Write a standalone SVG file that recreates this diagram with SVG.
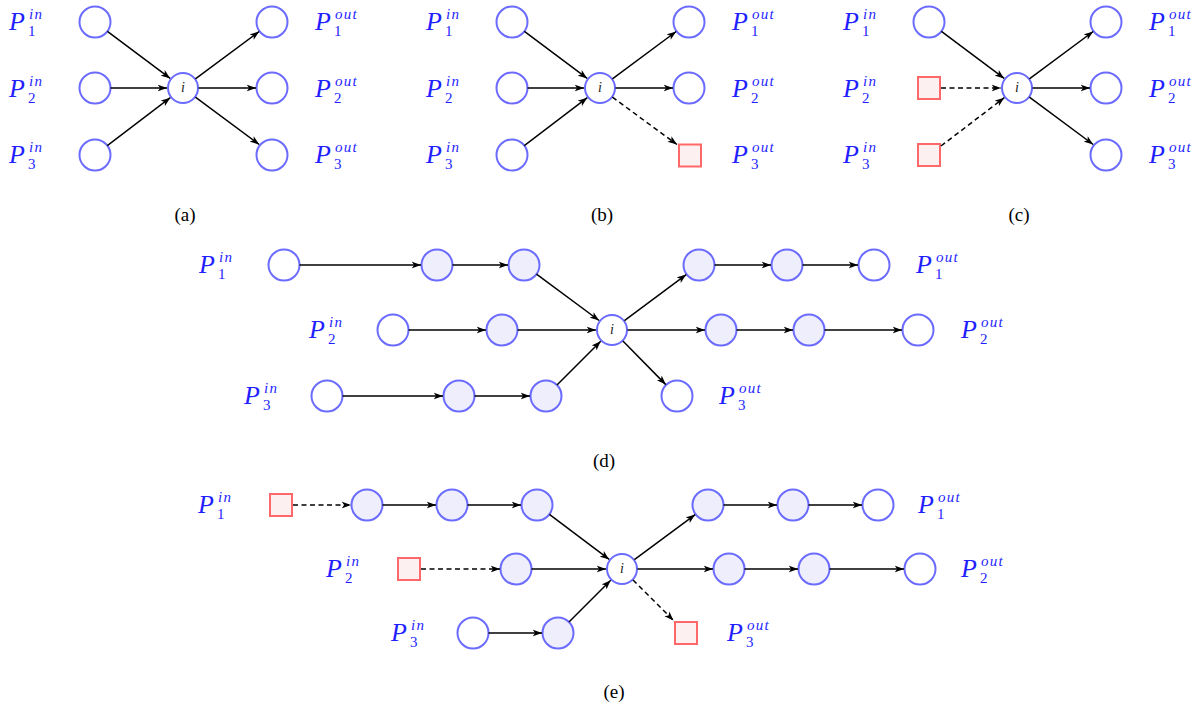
<svg xmlns="http://www.w3.org/2000/svg" width="1198" height="715" viewBox="0 0 1198 715">
<defs>
<marker id="ah" viewBox="0 0 10 8" refX="10" refY="4" markerWidth="9.5" markerHeight="7.5" markerUnits="userSpaceOnUse" orient="auto">
<path d="M0,0.3 L10,4 L0,7.7 L2.6,4 Z" fill="#000"/>
</marker>
</defs>
<style>
.n{fill:#fff;stroke:#6b6bff;stroke-width:2}
.f{fill:#eeeefd;stroke:#6b6bff;stroke-width:2}
.sq{fill:#fdf0f0;stroke:#ff6868;stroke-width:2}
.e{stroke:#000;stroke-width:1.5;fill:none;marker-end:url(#ah)}
.d{stroke-dasharray:5,3.5}
.lbl{font-family:"Liberation Serif",serif;font-style:italic;font-size:26px;fill:#1f1fff}
.s{font-size:15px;letter-spacing:1.3px}
.r{font-style:normal;letter-spacing:0}
.i{font-family:"Liberation Serif",serif;font-style:italic;font-size:14px;fill:#222;text-anchor:middle}
.cap{font-family:"Liberation Serif",serif;font-size:19px;fill:#000;text-anchor:middle}
</style>

<!-- Panel (a) -->
<g id="panel-a">
<g id="a-in1"><circle class="n" cx="95" cy="22" r="15.5"/></g>
<g id="a-in2"><circle class="n" cx="95" cy="88" r="15.5"/></g>
<g id="a-in3"><circle class="n" cx="95" cy="155" r="15.5"/></g>
<g id="a-i"><circle class="n" cx="183" cy="88" r="15"/><text class="i" x="183" y="92">i</text></g>
<g id="a-out1"><circle class="n" cx="272" cy="22" r="15.5"/></g>
<g id="a-out2"><circle class="n" cx="272" cy="88" r="15.5"/></g>
<g id="a-out3"><circle class="n" cx="272" cy="155" r="15.5"/></g>
<g id="a-edges">
<line class="e" x1="107.4" y1="31.3" x2="170.2" y2="78.4"/>
<line class="e" x1="110.5" y1="88" x2="167" y2="88"/>
<line class="e" x1="107.3" y1="145.6" x2="170.3" y2="97.7"/>
<line class="e" x1="195.4" y1="78.8" x2="259.2" y2="31.5"/>
<line class="e" x1="198.5" y1="88" x2="256" y2="88"/>
<line class="e" x1="195.4" y1="97.2" x2="259.2" y2="144.5"/>
</g>
<g id="a-labels">
<text class="lbl" x="9" y="30">P<tspan class="s" x="29" y="19">in</tspan><tspan class="s r" x="28" y="36">1</tspan></text>
<text class="lbl" x="9" y="97">P<tspan class="s" x="29" y="86">in</tspan><tspan class="s r" x="28" y="103">2</tspan></text>
<text class="lbl" x="9" y="163">P<tspan class="s" x="29" y="152">in</tspan><tspan class="s r" x="28" y="169">3</tspan></text>
<text class="lbl" x="315" y="30">P<tspan class="s" x="335" y="19">out</tspan><tspan class="s r" x="334" y="36">1</tspan></text>
<text class="lbl" x="315" y="97">P<tspan class="s" x="335" y="86">out</tspan><tspan class="s r" x="334" y="103">2</tspan></text>
<text class="lbl" x="315" y="163">P<tspan class="s" x="335" y="152">out</tspan><tspan class="s r" x="334" y="169">3</tspan></text>
</g>
<text class="cap" x="185" y="221">(a)</text>
</g>

<!-- Panel (b) -->
<g id="panel-b" transform="translate(417,0)">
<g id="b-in1"><circle class="n" cx="95" cy="22" r="15.5"/></g>
<g id="b-in2"><circle class="n" cx="95" cy="88" r="15.5"/></g>
<g id="b-in3"><circle class="n" cx="95" cy="155" r="15.5"/></g>
<g id="b-i"><circle class="n" cx="183" cy="88" r="15"/><text class="i" x="183" y="92">i</text></g>
<g id="b-out1"><circle class="n" cx="272" cy="22" r="15.5"/></g>
<g id="b-out2"><circle class="n" cx="272" cy="88" r="15.5"/></g>
<g id="b-out3"><rect class="sq" x="262" y="144.5" width="22" height="22"/></g>
<g id="b-edges">
<line class="e" x1="107.4" y1="31.3" x2="170.2" y2="78.4"/>
<line class="e" x1="110.5" y1="88" x2="167" y2="88"/>
<line class="e" x1="107.3" y1="145.6" x2="170.3" y2="97.7"/>
<line class="e" x1="195.4" y1="78.8" x2="259.2" y2="31.5"/>
<line class="e" x1="198.5" y1="88" x2="256" y2="88"/>
<line class="e d" x1="195.4" y1="97.2" x2="260" y2="144.5"/>
</g>
<g id="b-labels">
<text class="lbl" x="9" y="30">P<tspan class="s" x="29" y="19">in</tspan><tspan class="s r" x="28" y="36">1</tspan></text>
<text class="lbl" x="9" y="97">P<tspan class="s" x="29" y="86">in</tspan><tspan class="s r" x="28" y="103">2</tspan></text>
<text class="lbl" x="9" y="163">P<tspan class="s" x="29" y="152">in</tspan><tspan class="s r" x="28" y="169">3</tspan></text>
<text class="lbl" x="315" y="30">P<tspan class="s" x="335" y="19">out</tspan><tspan class="s r" x="334" y="36">1</tspan></text>
<text class="lbl" x="315" y="97">P<tspan class="s" x="335" y="86">out</tspan><tspan class="s r" x="334" y="103">2</tspan></text>
<text class="lbl" x="315" y="163">P<tspan class="s" x="335" y="152">out</tspan><tspan class="s r" x="334" y="169">3</tspan></text>
</g>
<text class="cap" x="185" y="221">(b)</text>
</g>

<!-- Panel (c) -->
<g id="panel-c" transform="translate(834,0)">
<g id="c-in1"><circle class="n" cx="95" cy="22" r="15.5"/></g>
<g id="c-in2"><rect class="sq" x="84" y="77" width="22" height="22"/></g>
<g id="c-in3"><rect class="sq" x="84" y="144" width="22" height="22"/></g>
<g id="c-i"><circle class="n" cx="183" cy="88" r="15"/><text class="i" x="183" y="92">i</text></g>
<g id="c-out1"><circle class="n" cx="272" cy="22" r="15.5"/></g>
<g id="c-out2"><circle class="n" cx="272" cy="88" r="15.5"/></g>
<g id="c-out3"><circle class="n" cx="272" cy="155" r="15.5"/></g>
<g id="c-edges">
<line class="e" x1="107.4" y1="31.3" x2="170.2" y2="78.4"/>
<line class="e d" x1="107" y1="88" x2="167" y2="88"/>
<line class="e d" x1="107" y1="146" x2="170.3" y2="97.7"/>
<line class="e" x1="195.4" y1="78.8" x2="259.2" y2="31.5"/>
<line class="e" x1="198.5" y1="88" x2="256" y2="88"/>
<line class="e" x1="195.4" y1="97.2" x2="259.2" y2="144.5"/>
</g>
<g id="c-labels">
<text class="lbl" x="9" y="30">P<tspan class="s" x="29" y="19">in</tspan><tspan class="s r" x="28" y="36">1</tspan></text>
<text class="lbl" x="9" y="97">P<tspan class="s" x="29" y="86">in</tspan><tspan class="s r" x="28" y="103">2</tspan></text>
<text class="lbl" x="9" y="163">P<tspan class="s" x="29" y="152">in</tspan><tspan class="s r" x="28" y="169">3</tspan></text>
<text class="lbl" x="315" y="30">P<tspan class="s" x="335" y="19">out</tspan><tspan class="s r" x="334" y="36">1</tspan></text>
<text class="lbl" x="315" y="97">P<tspan class="s" x="335" y="86">out</tspan><tspan class="s r" x="334" y="103">2</tspan></text>
<text class="lbl" x="315" y="163">P<tspan class="s" x="335" y="152">out</tspan><tspan class="s r" x="334" y="169">3</tspan></text>
</g>
<text class="cap" x="185" y="221">(c)</text>
</g>

<!-- Panel (d) -->
<g id="panel-d">
<g id="d-in1a"><circle class="n" cx="284" cy="265" r="15.5"/></g>
<g id="d-in1b"><circle class="f" cx="437" cy="265" r="15.5"/></g>
<g id="d-in1c"><circle class="f" cx="524" cy="265" r="15.5"/></g>
<g id="d-in2a"><circle class="n" cx="393" cy="330" r="15.5"/></g>
<g id="d-in2b"><circle class="f" cx="502" cy="330" r="15.5"/></g>
<g id="d-in3a"><circle class="n" cx="327" cy="396" r="15.5"/></g>
<g id="d-in3b"><circle class="f" cx="459" cy="396" r="15.5"/></g>
<g id="d-in3c"><circle class="f" cx="546" cy="396" r="15.5"/></g>
<g id="d-i"><circle class="n" cx="612" cy="330" r="15"/><text class="i" x="612" y="334">i</text></g>
<g id="d-out1a"><circle class="f" cx="699" cy="265" r="15.5"/></g>
<g id="d-out1b"><circle class="f" cx="787" cy="265" r="15.5"/></g>
<g id="d-out1c"><circle class="n" cx="874" cy="265" r="15.5"/></g>
<g id="d-out2a"><circle class="f" cx="721" cy="330" r="15.5"/></g>
<g id="d-out2b"><circle class="f" cx="809" cy="330" r="15.5"/></g>
<g id="d-out2c"><circle class="n" cx="918" cy="330" r="15.5"/></g>
<g id="d-out3a"><circle class="n" cx="677" cy="396" r="15.5"/></g>
<g id="d-edges">
<line class="e" x1="299.5" y1="265" x2="421" y2="265"/>
<line class="e" x1="452.5" y1="265" x2="508" y2="265"/>
<line class="e" x1="536.5" y1="274.2" x2="599.1" y2="320.5"/>
<line class="e" x1="408.5" y1="330" x2="486" y2="330"/>
<line class="e" x1="517.5" y1="330" x2="596" y2="330"/>
<line class="e" x1="342.5" y1="396" x2="443" y2="396"/>
<line class="e" x1="474.5" y1="396" x2="530" y2="396"/>
<line class="e" x1="557" y1="385" x2="600.7" y2="341.3"/>
<line class="e" x1="624.4" y1="320.7" x2="686.2" y2="274.6"/>
<line class="e" x1="714.5" y1="265" x2="771" y2="265"/>
<line class="e" x1="802.5" y1="265" x2="858" y2="265"/>
<line class="e" x1="627.5" y1="330" x2="705" y2="330"/>
<line class="e" x1="736.5" y1="330" x2="793" y2="330"/>
<line class="e" x1="824.5" y1="330" x2="902" y2="330"/>
<line class="e" x1="622.9" y1="341" x2="665.8" y2="384.6"/>
</g>
<g id="d-labels">
<text class="lbl" x="199" y="273">P<tspan class="s" x="219" y="262">in</tspan><tspan class="s r" x="218" y="279">1</tspan></text>
<text class="lbl" x="309" y="338">P<tspan class="s" x="329" y="327">in</tspan><tspan class="s r" x="328" y="344">2</tspan></text>
<text class="lbl" x="244" y="404">P<tspan class="s" x="264" y="393">in</tspan><tspan class="s r" x="263" y="410">3</tspan></text>
<text class="lbl" x="916" y="273">P<tspan class="s" x="936" y="262">out</tspan><tspan class="s r" x="935" y="279">1</tspan></text>
<text class="lbl" x="961" y="338">P<tspan class="s" x="981" y="327">out</tspan><tspan class="s r" x="980" y="344">2</tspan></text>
<text class="lbl" x="719" y="404">P<tspan class="s" x="739" y="393">out</tspan><tspan class="s r" x="738" y="410">3</tspan></text>
</g>
<text class="cap" x="604" y="467">(d)</text>
</g>

<!-- Panel (e) -->
<g id="panel-e">
<g id="e-in1a"><rect class="sq" x="270" y="494" width="22" height="22"/></g>
<g id="e-in1b"><circle class="f" cx="367" cy="505" r="15.5"/></g>
<g id="e-in1c"><circle class="f" cx="452" cy="505" r="15.5"/></g>
<g id="e-in1d"><circle class="f" cx="537" cy="505" r="15.5"/></g>
<g id="e-in2a"><rect class="sq" x="398" y="558" width="22" height="22"/></g>
<g id="e-in2b"><circle class="f" cx="516" cy="569" r="15.5"/></g>
<g id="e-in3a"><circle class="n" cx="473" cy="633" r="15.5"/></g>
<g id="e-in3b"><circle class="f" cx="558" cy="633" r="15.5"/></g>
<g id="e-i"><circle class="n" cx="622" cy="569" r="15"/><text class="i" x="622" y="573">i</text></g>
<g id="e-out1a"><circle class="f" cx="708" cy="505" r="15.5"/></g>
<g id="e-out1b"><circle class="f" cx="793" cy="505" r="15.5"/></g>
<g id="e-out1c"><circle class="n" cx="878" cy="505" r="15.5"/></g>
<g id="e-out2a"><circle class="f" cx="729" cy="569" r="15.5"/></g>
<g id="e-out2b"><circle class="f" cx="814" cy="569" r="15.5"/></g>
<g id="e-out2c"><circle class="n" cx="920" cy="569" r="15.5"/></g>
<g id="e-out3a"><rect class="sq" x="675" y="622" width="22" height="22"/></g>
<g id="e-edges">
<line class="e d" x1="293" y1="505" x2="351" y2="505"/>
<line class="e" x1="382.5" y1="505" x2="436" y2="505"/>
<line class="e" x1="467.5" y1="505" x2="521" y2="505"/>
<line class="e" x1="549.4" y1="514.3" x2="609.2" y2="559.4"/>
<line class="e d" x1="421" y1="569" x2="500" y2="569"/>
<line class="e" x1="531.5" y1="569" x2="606" y2="569"/>
<line class="e" x1="488.5" y1="633" x2="542" y2="633"/>
<line class="e" x1="569" y1="622" x2="610.7" y2="580.3"/>
<line class="e" x1="634.4" y1="559.7" x2="695.2" y2="514.6"/>
<line class="e" x1="723.5" y1="505" x2="777" y2="505"/>
<line class="e" x1="808.5" y1="505" x2="862" y2="505"/>
<line class="e" x1="637.5" y1="569" x2="713" y2="569"/>
<line class="e" x1="744.5" y1="569" x2="798" y2="569"/>
<line class="e" x1="829.5" y1="569" x2="904" y2="569"/>
<line class="e d" x1="633" y1="580" x2="673.5" y2="620.5"/>
</g>
<g id="e-labels">
<text class="lbl" x="198" y="513">P<tspan class="s" x="218" y="502">in</tspan><tspan class="s r" x="217" y="519">1</tspan></text>
<text class="lbl" x="326" y="577">P<tspan class="s" x="346" y="566">in</tspan><tspan class="s r" x="345" y="583">2</tspan></text>
<text class="lbl" x="391" y="641">P<tspan class="s" x="411" y="630">in</tspan><tspan class="s r" x="410" y="647">3</tspan></text>
<text class="lbl" x="918" y="513">P<tspan class="s" x="938" y="502">out</tspan><tspan class="s r" x="937" y="519">1</tspan></text>
<text class="lbl" x="961" y="577">P<tspan class="s" x="981" y="566">out</tspan><tspan class="s r" x="980" y="583">2</tspan></text>
<text class="lbl" x="727" y="641">P<tspan class="s" x="747" y="630">out</tspan><tspan class="s r" x="746" y="647">3</tspan></text>
</g>
<text class="cap" x="614" y="698">(e)</text>
</g>
</svg>
